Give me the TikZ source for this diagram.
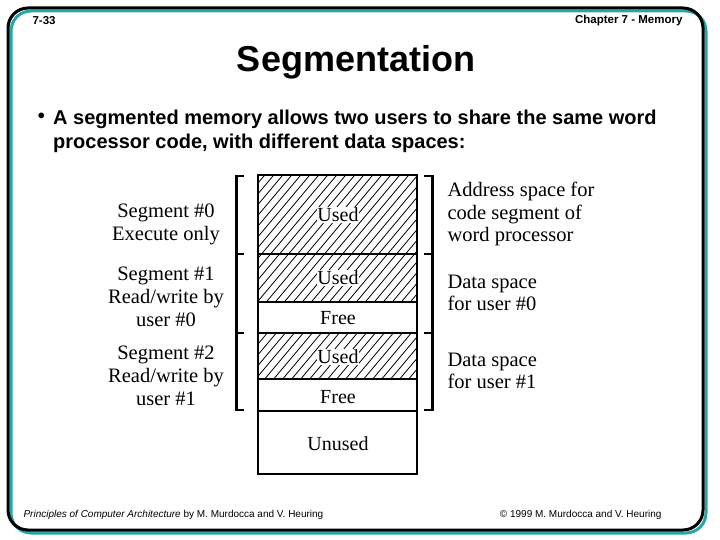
\documentclass[tikz,border=0pt]{standalone}
\usepackage{fontspec}
\setmainfont{Liberation Serif}
\setsansfont{Liberation Sans}
\definecolor{frameteal}{RGB}{40,165,165}
\begin{document}
\begin{tikzpicture}[x=1pt,y=-1pt,
  cell/.style={draw=black,line width=1.6pt},
  hatch/.style={line width=0.8pt},
  celltext/.style={font=\fontsize{20}{23}\selectfont,inner sep=0.8pt},
  sidetext/.style={font=\fontsize{20.5}{23}\selectfont,align=center},
  righttext/.style={font=\fontsize{20.5}{22.5}\selectfont,align=left,anchor=west},
  brk/.style={line width=3pt},
  tick/.style={line width=2.2pt},
  hdr/.style={font=\sffamily\bfseries\fontsize{11.5}{13}\selectfont},
  ftr/.style={font=\sffamily\fontsize{10}{12}\selectfont},
  bul/.style={font=\sffamily\bfseries\fontsize{20}{24}\selectfont,inner sep=0pt}]
\useasboundingbox (0,0) rectangle (720,540);
% frame
\draw[frameteal,line width=3pt,rounded corners=20pt] (11,11) rectangle (706,533);
\draw[black,line width=3pt,rounded corners=20pt] (8,8) rectangle (703,530);
% header
\node[hdr,anchor=west] (pg) at (29,21) {7-33};
\node[hdr,anchor=east] (ch) at (686,21) {Chapter 7 - Memory};
\node[font=\sffamily\bfseries\fontsize{36}{40}\selectfont] (title) at (356,62) {Segmentation};
% bullet
\node[bul] (b) at (41.5,118) {\textbullet};
\node[bul,anchor=base west] (bt1) at (53,125) {A segmented memory allows two users to share the same word};
\node[bul,anchor=base west] (bt2) at (53,149) {processor code, with different data spaces:};
% hatching
\foreach \ya/\yb in {175/254,254/302,333/379}{
  \begin{scope}
    \clip (258,\ya) rectangle (417,\yb);
    \foreach \a in {0,9,...,430}{
      \draw[hatch] (\a,480) -- (\a+260,170);
    }
  \end{scope}
}
% cells
\draw[cell] (258,175) rectangle (417,254);
\draw[cell] (258,254) rectangle (417,302);
\draw[cell] (258,302) rectangle (417,333);
\draw[cell] (258,333) rectangle (417,379);
\draw[cell] (258,379) rectangle (417,411);
\draw[cell] (258,411) rectangle (417,474);
\node[celltext,fill=white] (u0) at (338,215) {Used};
\node[celltext,fill=white] (u1) at (338,278) {Used};
\node[celltext] (f1) at (338,318) {Free};
\node[celltext,fill=white] (u2) at (338,357) {Used};
\node[celltext] (f2) at (338,397) {Free};
\node[celltext] (un) at (338,444) {Unused};
% brackets
\draw[brk] (236,175) -- (236,411);
\draw[tick] (236,176) -- (244,176);
\draw[tick] (236,254) -- (244,254);
\draw[tick] (236,333) -- (244,333);
\draw[tick] (236,410) -- (244,410);
\draw[brk] (432,175) -- (432,411);
\draw[tick] (424,176) -- (432,176);
\draw[tick] (424,254) -- (432,254);
\draw[tick] (424,333) -- (432,333);
\draw[tick] (424,410) -- (432,410);
% left labels
\node[sidetext] (s0) at (166,224) {Segment \#0\\Execute only};
\node[sidetext] (s1) at (166,297) {Segment \#1\\Read/write by\\user \#0};
\node[sidetext] (s2) at (166,376) {Segment \#2\\Read/write by\\user \#1};
% right labels
\node[righttext] (r0) at (444,214) {Address space for\\code segment of\\word processor};
\node[righttext] (r1) at (444,293) {Data space\\for user \#0};
\node[righttext] (r2) at (444,371) {Data space\\for user \#1};
% footer
\node[ftr,anchor=west] (f1t) at (20,514.5) {\textit{Principles of Computer Architecture} by M. Murdocca and V. Heuring};
\node[ftr,anchor=east] (f2t) at (665,514.5) {© 1999 M. Murdocca and V. Heuring};
\end{tikzpicture}
\end{document}
